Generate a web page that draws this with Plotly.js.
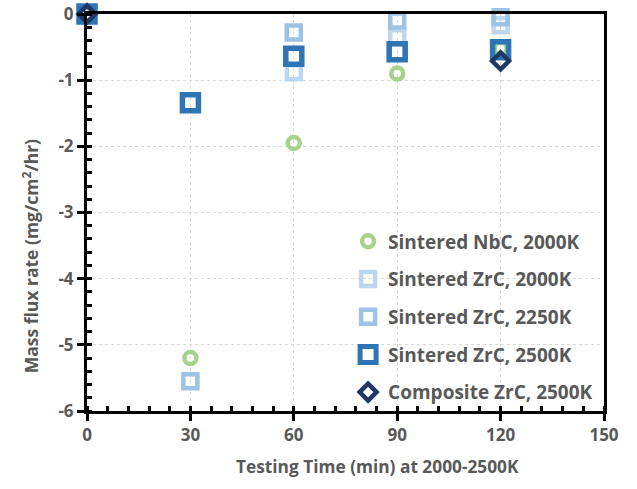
<!DOCTYPE html>
<html>
<head>
<meta charset="utf-8">
<script src="https://cdn.plot.ly/plotly-3.0.1.min.js"></script>
<style>html,body{margin:0;padding:0;background:#fff;}#chart{width:637px;height:489px;}</style>
</head>
<body>
<div id="chart"></div>
<script>
// Data
const seriesNames = ["Sintered NbC, 2000K", "Sintered ZrC, 2000K", "Sintered ZrC, 2250K", "Sintered ZrC, 2500K", "Composite ZrC, 2500K"];
const nbc2000_x = [0, 30, 60, 90, 120];
const nbc2000_y = [0, -5.2, -1.95, -0.9, -0.52];
const zrc2000_x = [0, 60, 90, 120];
const zrc2000_y = [0, -0.88, -0.35, -0.17];
const zrc2250_x = [0, 30, 60, 90, 120];
const zrc2250_y = [0, -5.55, -0.28, -0.1, -0.05];
const zrc2500_x = [0, 30, 60, 90, 120];
const zrc2500_y = [0, -1.34, -0.64, -0.57, -0.54];
const comp2500_x = [0, 120];
const comp2500_y = [0, -0.71];
const xTicks = [0, 30, 60, 90, 120, 150];
const yTicks = [0, -1, -2, -3, -4, -5, -6];
const xTitle = 'Testing Time (min) at 2000-2500K';
const yTitle = 'Mass flux rate (mg/cm<sup>2</sup>/hr)';

const gray = '#595959';
const fontFam = '"Open Sans", "Noto Sans", sans-serif';

function mk(name, x, y, symbol, color, size, lw, group) {
  return {
    type: 'scatter', mode: 'markers', name: name, x: x, y: y,
    cliponaxis: false, legendgroup: group,
    marker: {symbol: symbol, color: color, size: size, line: {color: color, width: lw}}
  };
}

const traces = [
  mk(seriesNames[0], nbc2000_x, nbc2000_y, 'circle-open', '#a9d18e', 12, 4.5, 'a'),
  mk(seriesNames[1], zrc2000_x, zrc2000_y, 'square-open', '#bdd7ee', 14, 4.5, 'b'),
  mk(seriesNames[2], zrc2250_x, zrc2250_y, 'square-open', '#9dc3e6', 14, 4.5, 'c'),
  mk(seriesNames[3], zrc2500_x, zrc2500_y, 'square-open', '#2e75b6', 16, 5.5, 'd'),
  mk(seriesNames[4], comp2500_x, comp2500_y, 'diamond-open', '#203864', 13, 4.5, 'e')
];

const bold = {family: fontFam, color: gray, weight: 700};

const layout = {
  width: 637, height: 489,
  margin: {l: 87, r: 33, t: 14, b: 78},
  paper_bgcolor: '#fff', plot_bgcolor: '#fff',
  font: {family: fontFam, color: gray, size: 15},
  showlegend: true,
  legend: {
    x: 0.505, y: 0.475, xanchor: 'left', yanchor: 'top',
    bgcolor: 'rgba(255,255,255,0)', borderwidth: 0,
    traceorder: 'grouped', tracegroupgap: 10,
    font: Object.assign({size: 19}, bold),
    itemwidth: 30
  },
  xaxis: {
    range: [0, 150], tickvals: xTicks, ticktext: xTicks.map(String),
    showline: true, linecolor: '#000', linewidth: 3, mirror: true,
    ticks: 'outside', ticklen: 7, tickwidth: 3, tickcolor: '#000',
    minor: {dtick: 6, ticks: 'inside', ticklen: 5, tickwidth: 3, tickcolor: '#000', showgrid: false},
    showgrid: true, gridcolor: '#d9d9d9', gridwidth: 1, griddash: '3px,3px',
    zeroline: false,
    tickfont: Object.assign({size: 17}, bold)
  },
  yaxis: {
    range: [-6, 0], tickvals: yTicks, ticktext: yTicks.map(String),
    showline: true, linecolor: '#000', linewidth: 3, mirror: true,
    ticks: 'outside', ticklen: 7, tickwidth: 3, tickcolor: '#000',
    minor: {dtick: 0.2, ticks: 'inside', ticklen: 5, tickwidth: 3, tickcolor: '#000', showgrid: false},
    showgrid: true, gridcolor: '#d9d9d9', gridwidth: 1, griddash: '3px,3px',
    zeroline: false,
    tickfont: Object.assign({size: 17}, bold)
  },
  annotations: [{
    text: yTitle, textangle: -90, showarrow: false,
    xref: 'paper', yref: 'paper', x: -0.11, y: 0.39, xanchor: 'center', yanchor: 'middle',
    font: Object.assign({size: 17.5}, bold)
  }, {
    text: xTitle, showarrow: false,
    xref: 'paper', yref: 'paper', x: 0.561, y: -0.141, xanchor: 'center', yanchor: 'middle',
    font: Object.assign({size: 17.3}, bold)
  }]
};

Plotly.newPlot('chart', traces, layout, {staticPlot: true, displayModeBar: false});
</script>
</body>
</html>
